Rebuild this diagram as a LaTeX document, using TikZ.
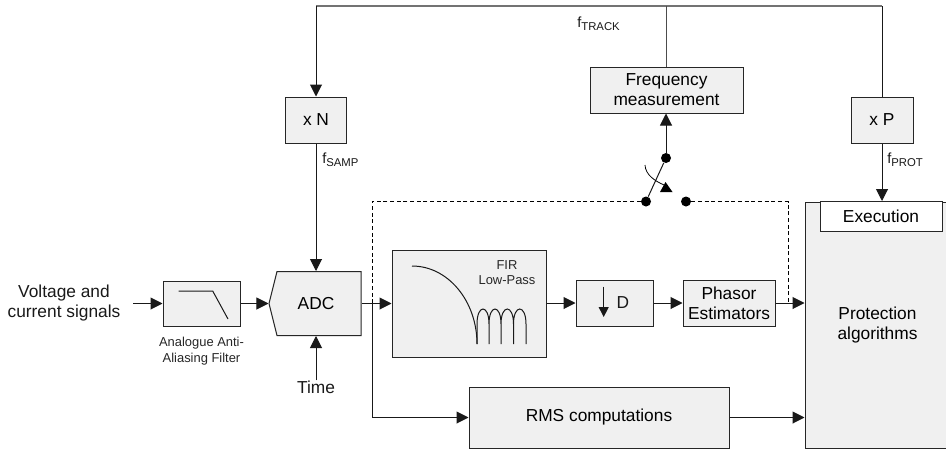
\documentclass[tikz,border=0pt]{standalone}
\usepackage{fontspec}
\setmainfont{Liberation Sans}
\usetikzlibrary{arrows.meta}
\usetikzlibrary{shapes.symbols}

\newcommand{\fsub}[1]{{\fontsize{11}{13}\selectfont f}\raisebox{-2.2pt}{\fontsize{8.5}{10}\selectfont #1}}

\tikzset{
  blockbox/.style={draw=black!85,fill=black!6,line width=0.75pt,inner sep=0pt,align=center,font=\fontsize{13}{15}\selectfont},
  sigline/.style={black!90,line width=0.75pt},
  sigarrow/.style={sigline,-{Triangle[length=9pt,width=9pt]}},
  swdash/.style={black,line width=0.6pt,dash pattern=on 3pt off 2pt},
  swdot/.style={circle,fill=black,inner sep=0pt,minimum size=7.5pt},
  plaintext/.style={inner sep=0pt,align=center,font=\fontsize{13}{15}\selectfont,text=black!90},
  smalltext/.style={inner sep=0pt,align=center,font=\fontsize{9.7}{11.5}\selectfont,text=black!85},
}

\begin{document}
\begin{tikzpicture}[x=0.75pt,y=-0.75pt]
  \useasboundingbox (0,0) rectangle (946,450);

  % blocks along the signal path
  \node[plaintext] (input) at (64,303) {Voltage and\\current signals};
  \node[blockbox,minimum width=57.75pt,minimum height=33.75pt] (aaf) at (201.5,303.5) {};
  \node[smalltext] (aafcap) at (201.5,351) {Analogue Anti-\\Aliasing Filter};
  \node[blockbox,shape=signal,signal to=west,signal from=nowhere,signal pointer angle=152,
    minimum width=69pt,minimum height=48pt] (adc) at (319,303.5) {ADC\hspace{4.5pt}};
  \node[plaintext] (time) at (316,387) {Time};
  \node[blockbox,minimum width=115.5pt,minimum height=80.25pt] (fir) at (469,303.5) {};
  \node[smalltext] (firtxt) at (507,272.5) {FIR\\Low-Pass};
  \node[blockbox,minimum width=57.75pt,minimum height=34.5pt] (dec) at (614.5,303) {};
  \node[plaintext] (dectxt) at (623,303) {D};
  \node[blockbox,minimum width=69pt,minimum height=34.5pt] (phasor) at (729,303) {Phasor\\Estimators};
  \node[blockbox,minimum width=195pt,minimum height=45.75pt] (rms) at (599,417.5) {RMS computations};
  \node[blockbox,minimum width=108.75pt,minimum height=184.5pt] (prot) at (877.5,325) {Protection\\algorithms};
  \node[blockbox,fill=white,minimum width=91.5pt,minimum height=22.5pt] (exec) at (881,216.5) {Execution};

  % feedback blocks
  \node[blockbox,minimum width=114.75pt,minimum height=34.5pt] (freq) at (666.5,90) {Frequency\\measurement};
  \node[blockbox,minimum width=46pt,minimum height=34.5pt] (xn) at (316,120) {x N};
  \node[blockbox,minimum width=46.5pt,minimum height=34.5pt] (xp) at (882,120) {x P};
  \node[plaintext,anchor=west] (ftrack) at (577,24) {\fsub{TRACK}};
  \node[plaintext,anchor=west] (fsamp) at (322,160) {\fsub{SAMP}};
  \node[plaintext,anchor=west] (fprot) at (887,160) {\fsub{PROT}};

  % switch
  \node[swdot] (swtop) at (666,158) {};
  \node[swdot] (swleft) at (646,201.5) {};
  \node[swdot] (swright) at (686,201.5) {};

  \coordinate (instart) at (133,303.5);
  \coordinate (split) at (372,303.5);
  \coordinate (topl) at (316,6);
  \coordinate (topm) at (666.5,6);
  \coordinate (topr) at (882,6);
  \coordinate (dashl) at (372,201.5);
  \coordinate (dashr) at (788,201.5);
  \coordinate (dashend) at (788,303);

  % main path
  \draw[sigarrow] (instart) -- (aaf.west);
  \draw[sigarrow] (aaf.east) -- (adc.west);
  \draw[sigarrow] (time.north) -- (time.north |- adc.south);
  \draw[sigarrow] (adc.east |- split) -- (fir.west |- split);
  \draw[sigarrow] (fir.east |- dec.west) -- (dec.west);
  \draw[sigarrow] (dec.east) -- (phasor.west);
  \draw[sigarrow] (phasor.east) -- (phasor.east -| prot.west);
  \draw[sigarrow] (split) |- (rms.west);
  \draw[sigarrow] (rms.east) -- (rms.east -| prot.west);

  % feedback
  \draw[black!55,line width=1.2pt] (topl) -- (topr);
  \draw[sigarrow] (topl) -- (xn.north);
  \draw[sigline] (topr) -- (xp.north);
  \draw[black!70,line width=0.75pt] (topm) -- (freq.north);
  \draw[sigarrow] (xn.south) -- (xn.south |- adc.north);
  \draw[sigarrow] (xp.south) -- (exec.north -| xp.south);
  \draw[sigarrow] (swtop) -- (freq.south -| swtop);
  \draw[sigline] (swtop) -- (swleft);
  \draw[swdash] (swleft) -- (dashl) -- (split);
  \draw[swdash] (swright) -- (dashr) -- (dashend);

  % icons
  \draw[sigline] (178.5,291) -- (212.7,291) -- (228,319);
  \draw[sigline] (412,266) .. controls (448,266) and (477,301) .. (477,344);
  \draw[sigline] (477,344) -- (477,324) .. controls (477,304) and (489,304) .. (489,324) -- (489,344)
    (489,324) .. controls (489,304) and (501,304) .. (501,324) -- (501,344)
    (501,324) .. controls (501,304) and (513.5,304) .. (513.5,324) -- (513.5,344)
    (513.5,324) .. controls (513.5,304) and (526,304) .. (526,324) -- (526,344);
  \draw[sigarrow,-{Triangle[length=7.5pt,width=7.5pt]}] (603.7,286.7) -- (603.7,317);
  \draw[black,line width=0.6pt] (645,165) .. controls (645.5,175) and (655,181) .. (664,185);
  \fill[black] (665.5,182) -- (660,192) -- (672.5,192) -- cycle;
\end{tikzpicture}
\end{document}
